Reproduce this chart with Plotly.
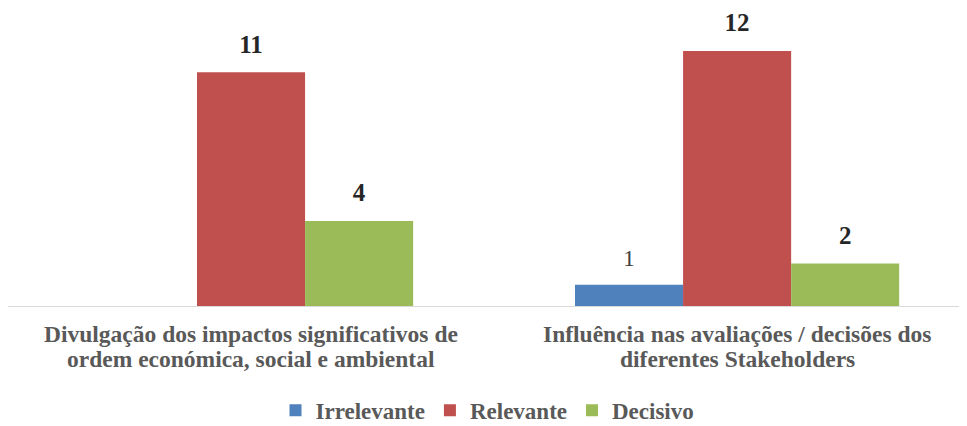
import plotly.graph_objects as go

categories = ["Divulgação dos impactos significativos de ordem económica, social e ambiental",
              "Influência nas avaliações / decisões dos diferentes Stakeholders"]
category_lines = [["Divulgação dos impactos significativos de", "ordem económica, social e ambiental"],
                  ["Influência nas avaliações / decisões dos", "diferentes Stakeholders"]]
irrelevante = [0, 1]
relevante = [11, 12]
decisivo = [4, 2]

series = [
    ("Irrelevante", irrelevante, "#4F81BD"),
    ("Relevante", relevante, "#C0504D"),
    ("Decisivo", decisivo, "#9BBB59"),
]

SERIF = "Liberation Serif"
GREY = "#595959"

fig = go.Figure()
for i, (name, vals, color) in enumerate(series):
    fig.add_trace(go.Bar(
        x=categories, y=vals, name="<b>%s</b>" % name,
        offsetgroup=str(i),
        marker=dict(color=color, line_width=0),
    ))
# value labels, pushed above the bars by an invisible marker
for i, (name, vals, color) in enumerate(series):
    if name == "Irrelevante":
        labels = [str(v) if v else "" for v in vals]
    else:
        labels = ["<b>%d</b>" % v if v else "" for v in vals]
    fig.add_trace(go.Scatter(
        x=categories, y=vals, mode="markers+text", text=labels,
        textposition="top center", offsetgroup=str(i), showlegend=False,
        marker=dict(size=20, opacity=0), hoverinfo="skip", cliponaxis=False,
        textfont=dict(family=SERIF, size=25 if name != "Irrelevante" else 23,
                      color="#404040" if name == "Irrelevante" else "#262626"),
    ))

# two-line category labels with tight line spacing
for cat, lines in zip(categories, category_lines):
    for j, line in enumerate(lines):
        fig.add_annotation(x=cat, xref="x", yref="paper", y=-0.095 - j * 0.085,
                           yanchor="middle", text="<b>%s</b>" % line, showarrow=False,
                           font=dict(family=SERIF, size=23.5, color=GREY))

fig.update_layout(
    width=959, height=418,
    margin=dict(l=0, r=0, t=2, b=120, autoexpand=False),
    paper_bgcolor="white", plot_bgcolor="white",
    barmode="group", bargap=0.333, bargroupgap=0,
    scattermode="group", scattergap=0.333,
    font=dict(family=SERIF, color=GREY),
    showlegend=True,
    legend=dict(orientation="h", x=0.5, xanchor="center", y=-0.352, yanchor="middle",
                font=dict(family=SERIF, size=23, color=GREY),
                itemwidth=30, traceorder="normal"),
)
fig.update_xaxes(range=[-0.5, 1.473], showline=True, linecolor="#D9D9D9", linewidth=1,
                 ticks="", showticklabels=False, showgrid=False, automargin=False)
fig.update_yaxes(range=[0, 13.93], visible=False, showgrid=False, automargin=False)

fig.write_html("out.html")
